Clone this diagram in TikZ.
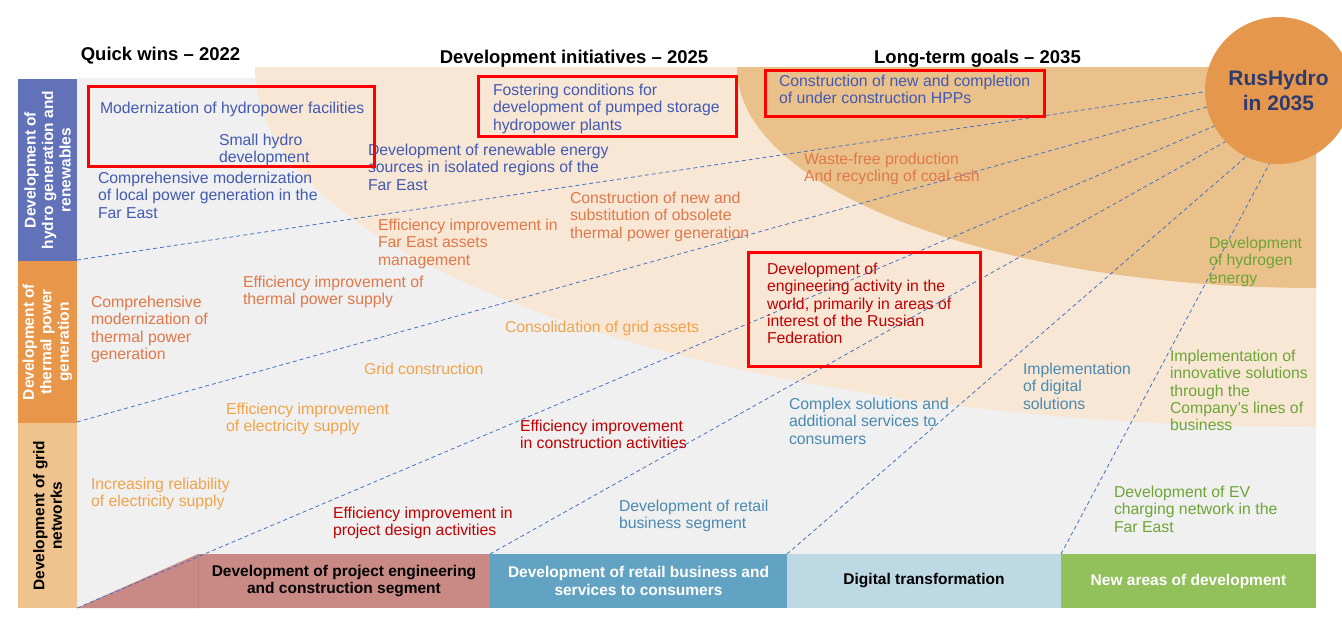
\documentclass[tikz,border=0pt]{standalone}
\usepackage{fontspec}
\setmainfont{Liberation Sans}
\definecolor{gbg}{RGB}{240,240,240}
\definecolor{peach}{RGB}{249,231,214}
\definecolor{dpeach}{RGB}{235,193,139}
\definecolor{bandblue}{RGB}{98,114,185}
\definecolor{bandorange}{RGB}{232,150,74}
\definecolor{bandlight}{RGB}{238,195,141}
\definecolor{circ}{RGB}{229,152,77}
\definecolor{navy}{RGB}{47,59,110}
\definecolor{thydro}{RGB}{66,90,178}
\definecolor{ttherm}{RGB}{224,120,74}
\definecolor{tgrid}{RGB}{242,163,74}
\definecolor{teng}{RGB}{192,0,0}
\definecolor{tteal}{RGB}{74,138,176}
\definecolor{tgreen}{RGB}{110,165,55}
\definecolor{bpink}{RGB}{201,137,133}
\definecolor{bpinkedge}{RGB}{190,122,118}
\definecolor{bblue}{RGB}{98,163,196}
\definecolor{blight}{RGB}{189,217,227}
\definecolor{bgreen}{RGB}{146,192,90}
\definecolor{dline}{RGB}{68,114,196}
\newcommand\lbf{\fontsize{15.8}{17.3}\selectfont}
\newcommand\hdf{\fontsize{18.5}{22}\selectfont\bfseries}
\newcommand\bbf{\fontsize{15.5}{17.5}\selectfont\bfseries}
\begin{document}
\begin{tikzpicture}[x=1pt,y=1pt,
  lbl/.style={anchor=north west, inner sep=0pt, outer sep=0pt, align=left, font=\lbf},
  hdr/.style={anchor=base, inner sep=0pt, font=\hdf},
  band/.style={rotate=90, inner sep=0pt, outer sep=0pt, minimum height=59, align=center, font=\bbf},
  bar/.style={inner sep=0pt, outer sep=0pt, minimum height=54, align=center, font=\bbf},
  redbox/.style={draw=red, line width=3pt, inner sep=0pt, outer sep=0pt},
  fan/.style={draw=dline, line width=0.8pt, dash pattern=on 4pt off 3pt}]
\useasboundingbox (0,0) rectangle (1342,-618);
\fill[white] (0,0) rectangle (1342,-618);
% backgrounds
\fill[gbg] (77,-78) rectangle (1316,-608);
\begin{scope}
\clip (77,-68) rectangle (1316,-608);
\fill[peach] (1316,-68) ellipse[x radius=1061, y radius=359];
\fill[dpeach] (1316,-68) ellipse[x radius=579, y radius=220];
\end{scope}
% bands
\node[band, fill=bandblue, text=white, minimum width=182] (b1) at (47.5,-170) {Development of\\hydro generation and\\renewables};
\node[band, fill=bandorange, text=white, minimum width=162] (b2) at (47.5,-342) {Development of\\thermal power\\generation};
\node[band, fill=bandlight, text=black, minimum width=185] (b3) at (47.5,-515.5) {Development of grid\\networks};
% headers
\node[hdr] (h1) at (160.5,-60.5) {Quick wins -- 2022};
\node[hdr] (h2) at (574,-63.5) {Development initiatives -- 2025};
\node[hdr] (h3) at (977.5,-63.5) {Long-term goals -- 2035};
% bottom bar
\fill[bpink] (77,-608) -- (198,-554) -- (198,-608) -- cycle;
\node[bar, fill=bpink, text=black, minimum width=292] (s1) at (344,-581) {Development of project engineering\\and construction segment};
\draw[bpinkedge, line width=0.8pt] (s1.north west) -- (s1.south west);
\node[bar, fill=bblue, text=white, minimum width=297] (s2) at (638.5,-581) {Development of retail business and\\services to consumers};
\node[bar, fill=blight, text=black, minimum width=274] (s3) at (924,-581) {Digital transformation};
\node[bar, fill=bgreen, text=white, minimum width=255] (s4) at (1188.5,-581) {New areas of development};
% circle
\node[circle, fill=circ, minimum size=147, inner sep=0pt, outer sep=0pt, align=center, text=navy,
  font=\fontsize{21}{25.5}\selectfont\bfseries] (rh) at (1278.5,-90.5) {RusHydro\\in 2035};
% fan lines
\coordinate (d1) at (77,-260);
\coordinate (d2) at (77,-422);
\coordinate (d3) at (77,-608);
\path[fan] (d1) -- (rh.181);
\path[fan] (d2) -- (rh.193);
\path[fan] (d3) -- (rh.209);
\path[fan] (s2.north west) -- (rh.224);
\path[fan] (s3.north west) -- (rh.244);
\path[fan] (s4.north west) -- (rh.263);
% hydro texts
\node[lbl, text=thydro] (t1) at (100,-102) {Modernization of hydropower facilities};
\node[lbl, text=thydro] (t2) at (219,-134) {Small hydro\\development};
\node[lbl, text=thydro] (t3) at (98,-172) {Comprehensive modernization\\of local power generation in the\\Far East};
\node[lbl, text=thydro] (t4) at (368,-144) {Development of renewable energy\\sources in isolated regions of the\\Far East};
\node[lbl, text=thydro] (t5) at (493,-84) {Fostering conditions for\\development of pumped storage\\hydropower plants};
\node[lbl, text=thydro] (t6) at (779,-75) {Construction of new and completion\\of under construction HPPs};
% thermal texts
\node[lbl, text=ttherm] (t7) at (804,-153) {Waste-free production\\And recycling of coal ash};
\node[lbl, text=ttherm] (t8) at (570,-192) {Construction of new and\\substitution of obsolete\\thermal power generation};
\node[lbl, text=ttherm] (t9) at (378,-219) {Efficiency improvement in\\Far East assets\\management};
\node[lbl, text=ttherm] (t10) at (243,-276) {Efficiency improvement of\\thermal power supply};
\node[lbl, text=ttherm] (t11) at (91,-296) {Comprehensive\\modernization of\\thermal power\\generation};
% grid texts
\node[lbl, text=tgrid] (t12) at (505,-321) {Consolidation of grid assets};
\node[lbl, text=tgrid] (t13) at (364,-363) {Grid construction};
\node[lbl, text=tgrid] (t14) at (226,-403) {Efficiency improvement\\of electricity supply};
\node[lbl, text=tgrid] (t15) at (91,-478) {Increasing reliability\\of electricity supply};
% engineering texts
\node[lbl, text=teng] (t16) at (767,-263) {Development of\\engineering activity in the\\world, primarily in areas of\\interest of the Russian\\Federation};
\node[lbl, text=teng] (t17) at (520,-420) {Efficiency improvement\\in construction activities};
\node[lbl, text=teng] (t18) at (333,-507) {Efficiency improvement in\\project design activities};
% retail / digital texts
\node[lbl, text=tteal] (t19) at (1023,-363) {Implementation\\of digital\\solutions};
\node[lbl, text=tteal] (t20) at (789,-398) {Complex solutions and\\additional services to\\consumers};
\node[lbl, text=tteal] (t21) at (619,-500) {Development of retail\\business segment};
% new areas texts
\node[lbl, text=tgreen] (t22) at (1209,-237) {Development\\of hydrogen\\energy};
\node[lbl, text=tgreen] (t23) at (1170,-350) {Implementation of\\innovative solutions\\through the\\Company’s lines of\\business};
\node[lbl, text=tgreen] (t24) at (1114,-486) {Development of EV\\charging network in the\\Far East};
% red boxes
\node[redbox, minimum width=286, minimum height=79] (r1) at (231,-126.5) {};
\node[redbox, minimum width=258, minimum height=59] (r2) at (607,-106.5) {};
\node[redbox, minimum width=279, minimum height=45] (r3) at (904.5,-93.5) {};
\node[redbox, minimum width=232, minimum height=114] (r4) at (864,-309) {};
\end{tikzpicture}
\end{document}
